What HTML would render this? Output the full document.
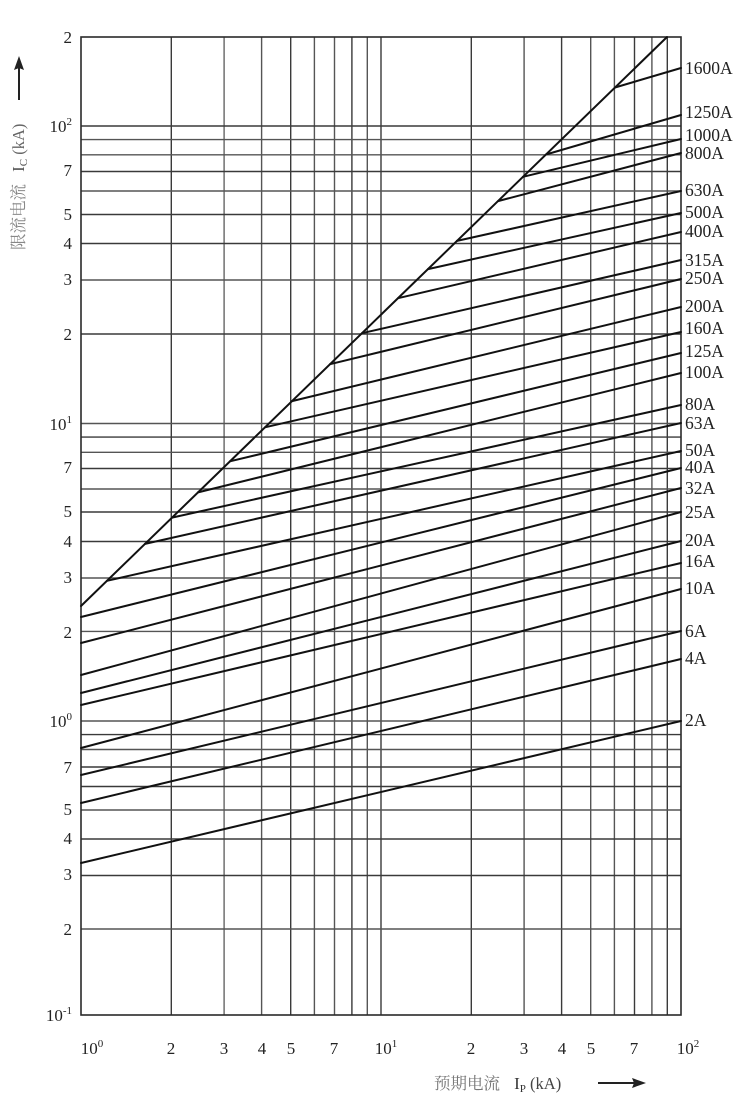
<!DOCTYPE html>
<html><head><meta charset="utf-8"><style>
html,body{margin:0;padding:0;background:#fff;}
svg{display:block;}
text{font-family:"Liberation Serif","Noto Serif CJK SC",serif;fill:#222;}
</style></head><body>
<svg width="750" height="1098" viewBox="0 0 750 1098" xmlns="http://www.w3.org/2000/svg">
<g stroke="#3a3a3a" stroke-width="1.4" fill="none">
<line x1="171.3" y1="37" x2="171.3" y2="1015"/>
<line x1="224.1" y1="37" x2="224.1" y2="1015" stroke="#666"/>
<line x1="261.6" y1="37" x2="261.6" y2="1015" stroke="#555"/>
<line x1="290.7" y1="37" x2="290.7" y2="1015"/>
<line x1="314.4" y1="37" x2="314.4" y2="1015" stroke="#555"/>
<line x1="334.5" y1="37" x2="334.5" y2="1015" stroke="#555"/>
<line x1="351.9" y1="37" x2="351.9" y2="1015"/>
<line x1="367.3" y1="37" x2="367.3" y2="1015" stroke="#555"/>
<line x1="381" y1="37" x2="381" y2="1015"/>
<line x1="471.3" y1="37" x2="471.3" y2="1015"/>
<line x1="524.1" y1="37" x2="524.1" y2="1015" stroke="#555"/>
<line x1="561.6" y1="37" x2="561.6" y2="1015"/>
<line x1="590.7" y1="37" x2="590.7" y2="1015" stroke="#555"/>
<line x1="614.4" y1="37" x2="614.4" y2="1015" stroke="#555"/>
<line x1="634.5" y1="37" x2="634.5" y2="1015"/>
<line x1="651.9" y1="37" x2="651.9" y2="1015" stroke="#555"/>
<line x1="667.3" y1="37" x2="667.3" y2="1015"/>

<line x1="81" y1="126" x2="681" y2="126"/>
<line x1="81" y1="139.6" x2="681" y2="139.6" stroke="#555"/>
<line x1="81" y1="154.8" x2="681" y2="154.8" stroke="#555"/>
<line x1="81" y1="171.5" x2="681" y2="171.5"/>
<line x1="81" y1="191" x2="681" y2="191" stroke="#555"/>
<line x1="81" y1="214.5" x2="681" y2="214.5"/>
<line x1="81" y1="243.5" x2="681" y2="243.5"/>
<line x1="81" y1="280" x2="681" y2="280" stroke="#555"/>
<line x1="81" y1="334" x2="681" y2="334"/>
<line x1="81" y1="423.5" x2="681" y2="423.5" stroke="#555"/>
<line x1="81" y1="437.1" x2="681" y2="437.1"/>
<line x1="81" y1="452.3" x2="681" y2="452.3" stroke="#555"/>
<line x1="81" y1="468.5" x2="681" y2="468.5"/>
<line x1="81" y1="489" x2="681" y2="489" stroke="#555"/>
<line x1="81" y1="512" x2="681" y2="512"/>
<line x1="81" y1="541.5" x2="681" y2="541.5"/>
<line x1="81" y1="578" x2="681" y2="578" stroke="#555"/>
<line x1="81" y1="631.4" x2="681" y2="631.4" stroke="#555"/>
<line x1="81" y1="721" x2="681" y2="721" stroke="#555"/>
<line x1="81" y1="734.6" x2="681" y2="734.6"/>
<line x1="81" y1="749.5" x2="681" y2="749.5" stroke="#555"/>
<line x1="81" y1="767" x2="681" y2="767"/>
<line x1="81" y1="786.5" x2="681" y2="786.5"/>
<line x1="81" y1="810" x2="681" y2="810" stroke="#555"/>
<line x1="81" y1="839" x2="681" y2="839"/>
<line x1="81" y1="875.5" x2="681" y2="875.5"/>
<line x1="81" y1="929" x2="681" y2="929" stroke="#555"/>
<rect x="81" y="37" width="600" height="978" stroke="#2a2a2a" stroke-width="1.6"/>
</g>
<g stroke="#111" stroke-width="2" fill="none" stroke-linecap="round">
<line x1="81" y1="606" x2="667" y2="37"/>
<line x1="615" y1="87.5" x2="681" y2="68"/>
<line x1="546" y1="154.5" x2="681" y2="115"/>
<line x1="523" y1="176.8" x2="681" y2="139"/>
<line x1="498" y1="201.1" x2="681" y2="153"/>
<line x1="457" y1="240.9" x2="681" y2="191"/>
<line x1="428" y1="269.1" x2="681" y2="213"/>
<line x1="398" y1="298.2" x2="681" y2="232"/>
<line x1="362" y1="333.2" x2="681" y2="260"/>
<line x1="330" y1="364.2" x2="681" y2="279"/>
<line x1="292" y1="401.1" x2="681" y2="307"/>
<line x1="265" y1="427.3" x2="681" y2="332"/>
<line x1="230" y1="461.3" x2="681" y2="353"/>
<line x1="198" y1="492.4" x2="681" y2="373"/>
<line x1="172" y1="517.6" x2="681" y2="405"/>
<line x1="145" y1="543.9" x2="681" y2="423"/>
<line x1="107" y1="580.8" x2="681" y2="451"/>
<line x1="81" y1="617" x2="681" y2="468"/>
<line x1="81" y1="643" x2="681" y2="488"/>
<line x1="81" y1="675" x2="681" y2="512"/>
<line x1="81" y1="693" x2="681" y2="541"/>
<line x1="81" y1="705" x2="681" y2="563"/>
<line x1="81" y1="748" x2="681" y2="589"/>
<line x1="81" y1="775" x2="681" y2="631"/>
<line x1="81" y1="803" x2="681" y2="659"/>
<line x1="81" y1="863" x2="681" y2="721"/>
</g>
<g font-size="17.5">
<text x="685" y="74">1600A</text>
<text x="685" y="118">1250A</text>
<text x="685" y="141">1000A</text>
<text x="685" y="159">800A</text>
<text x="685" y="196">630A</text>
<text x="685" y="218">500A</text>
<text x="685" y="237">400A</text>
<text x="685" y="266">315A</text>
<text x="685" y="284">250A</text>
<text x="685" y="312">200A</text>
<text x="685" y="334">160A</text>
<text x="685" y="357">125A</text>
<text x="685" y="378">100A</text>
<text x="685" y="410">80A</text>
<text x="685" y="429">63A</text>
<text x="685" y="456">50A</text>
<text x="685" y="473">40A</text>
<text x="685" y="494">32A</text>
<text x="685" y="518">25A</text>
<text x="685" y="546">20A</text>
<text x="685" y="567">16A</text>
<text x="685" y="594">10A</text>
<text x="685" y="637">6A</text>
<text x="685" y="664">4A</text>
<text x="685" y="726">2A</text>
</g>
<g font-size="17" text-anchor="end">
<text x="72" y="43">2</text>
<text x="72" y="132">10<tspan font-size="11" dy="-7">2</tspan></text>
<text x="72" y="176">7</text>
<text x="72" y="220">5</text>
<text x="72" y="249">4</text>
<text x="72" y="285">3</text>
<text x="72" y="340">2</text>
<text x="72" y="430">10<tspan font-size="11" dy="-7">1</tspan></text>
<text x="72" y="473">7</text>
<text x="72" y="517">5</text>
<text x="72" y="547">4</text>
<text x="72" y="583">3</text>
<text x="72" y="638">2</text>
<text x="72" y="727">10<tspan font-size="11" dy="-7">0</tspan></text>
<text x="72" y="773">7</text>
<text x="72" y="815">5</text>
<text x="72" y="844">4</text>
<text x="72" y="880">3</text>
<text x="72" y="935">2</text>
<text x="72" y="1021">10<tspan font-size="11" dy="-7">-1</tspan></text>
</g>
<g font-size="17" text-anchor="middle">
<text x="92" y="1054">10<tspan font-size="11" dy="-7">0</tspan></text>
<text x="171" y="1054">2</text>
<text x="224" y="1054">3</text>
<text x="262" y="1054">4</text>
<text x="291" y="1054">5</text>
<text x="334" y="1054">7</text>
<text x="386" y="1054">10<tspan font-size="11" dy="-7">1</tspan></text>
<text x="471" y="1054">2</text>
<text x="524" y="1054">3</text>
<text x="562" y="1054">4</text>
<text x="591" y="1054">5</text>
<text x="634" y="1054">7</text>
<text x="688" y="1054">10<tspan font-size="11" dy="-7">2</tspan></text>
</g>
<text x="434" y="1089" font-size="16.5" style="fill:#777">预期电流 <tspan dx="10" font-size="17" style="fill:#333">I</tspan><tspan font-size="11" dy="3" style="fill:#333">P</tspan><tspan dy="-3" style="fill:#444"> (kA)</tspan></text>
<line x1="598" y1="1083" x2="638" y2="1083" stroke="#222" stroke-width="2"/>
<polygon points="646,1083 632,1078 634,1083 632,1088" fill="#222"/>
<g transform="translate(24,250) rotate(-90)">
<text x="0" y="0" font-size="16.5" style="fill:#888">限流电流 <tspan dx="8" font-size="17" style="fill:#555">I</tspan><tspan font-size="11" dy="3" style="fill:#555">C</tspan><tspan dy="-3" style="fill:#666"> (kA)</tspan></text>
<line x1="150" y1="-5" x2="186" y2="-5" stroke="#222" stroke-width="2"/>
<polygon points="194,-5 180,-10 182,-5 180,0" fill="#222"/>
</g>
</svg>
</body></html>
